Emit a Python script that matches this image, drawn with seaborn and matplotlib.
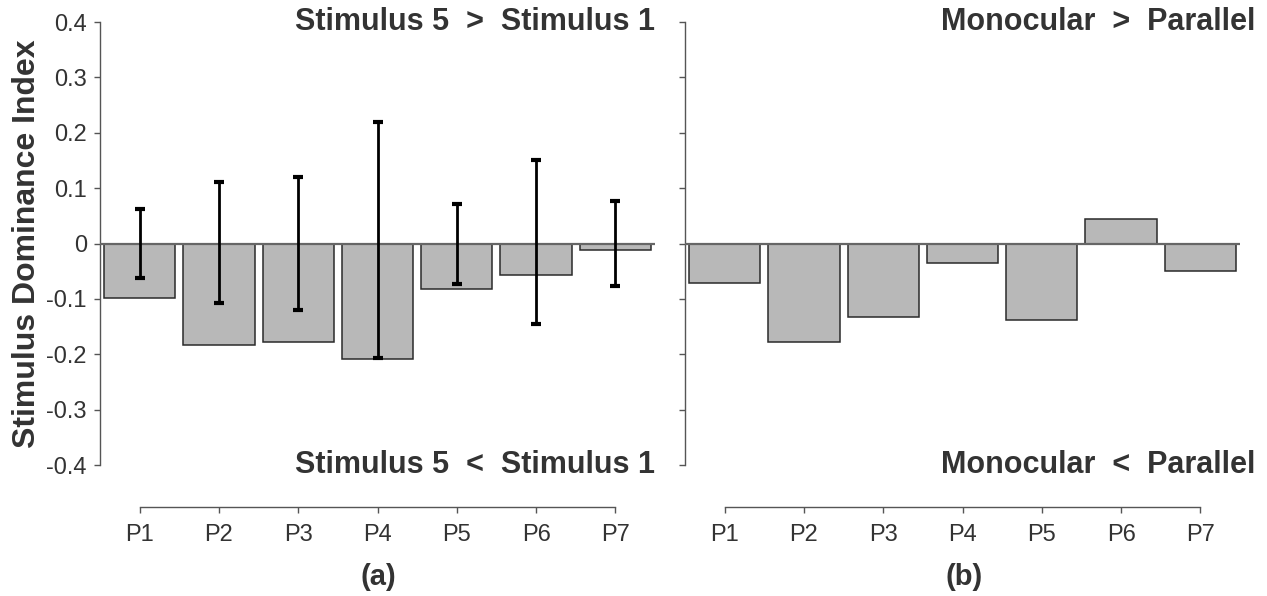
import numpy as np
import pandas as pd
import matplotlib
matplotlib.use("Agg")
import matplotlib.pyplot as plt
import seaborn as sns

# data
participants = ["P1", "P2", "P3", "P4", "P5", "P6", "P7"]
stim_index = [-0.099, -0.184, -0.178, -0.208, -0.083, -0.057, -0.012]
stim_err_low = [-0.062, -0.108, -0.120, -0.207, -0.073, -0.146, -0.077]
stim_err_high = [0.062, 0.111, 0.120, 0.220, 0.071, 0.150, 0.077]
mono_index = [-0.072, -0.177, -0.132, -0.036, -0.138, 0.044, -0.050]

sns.set_theme(style="white")
plt.rcParams["font.family"] = ["Liberation Sans", "DejaVu Sans"]

fig = plt.figure(figsize=(12.67, 5.96), dpi=100)
ax1 = fig.add_axes([100 / 1267, 1 - 465 / 596, 555 / 1267, 443 / 596])
ax2 = fig.add_axes([685 / 1267, 1 - 465 / 596, 555 / 1267, 443 / 596])

dark = "#333333"
bar_col = "#b8b8b8"

df1 = pd.DataFrame({"p": participants, "v": stim_index})
df2 = pd.DataFrame({"p": participants, "v": mono_index})

for ax, df in [(ax1, df1), (ax2, df2)]:
    sns.barplot(data=df, x="p", y="v", color=bar_col, saturation=1,
                edgecolor="#2a2a2a", linewidth=1.1, width=0.9, ax=ax, zorder=2)
    ax.axhline(0, color="#666666", lw=1.6, zorder=3)
    ax.set_xlim(-0.5, 6.5)
    ax.set_ylim(-0.4, 0.4)
    ax.set_yticks(np.arange(-0.4, 0.41, 0.1))
    ax.set_xlabel("")
    ax.set_ylabel("")
    for s in ["top", "right"]:
        ax.spines[s].set_visible(False)
    for s in ["left", "bottom"]:
        ax.spines[s].set_color("#555555")
        ax.spines[s].set_linewidth(1)
    ax.spines["bottom"].set_position(("outward", 30))
    ax.spines["bottom"].set_bounds(0, 6)
    ax.tick_params(axis="both", which="major", direction="out", length=4.5,
                   width=1, color="#555555", labelsize=17, labelcolor=dark,
                   left=True, bottom=True, pad=5)
    ax.tick_params(axis="x", pad=8)

ax1.set_yticklabels(["-0.4", "-0.3", "-0.2", "-0.1", "0", "0.1", "0.2", "0.3", "0.4"])
ax2.set_yticklabels([])

# error bars around zero
x = np.arange(len(participants))
yerr = [[-v for v in stim_err_low], stim_err_high]
ax1.errorbar(x, [0] * len(x), yerr=yerr, fmt="none", ecolor="black",
             elinewidth=2, capsize=3.8, capthick=3, zorder=4)

ax1.set_ylabel("Stimulus Dominance Index", fontsize=23, fontweight="bold",
               color=dark, labelpad=3)

txt = dict(fontsize=22, fontweight="bold", color=dark, ha="right", va="center")
ax1.text(6.5, 0.4, "Stimulus 5  >  Stimulus 1", **txt)
ax1.text(6.5, -0.4, "Stimulus 5  <  Stimulus 1", **txt)
ax2.text(6.69, 0.4, "Monocular  >  Parallel", **txt)
ax2.text(6.69, -0.4, "Monocular  <  Parallel", **txt)

fig.text(378 / 1267, 1 - 577 / 596, "(a)", fontsize=21, fontweight="bold",
         color=dark, ha="center", va="center")
fig.text(964 / 1267, 1 - 577 / 596, "(b)", fontsize=21, fontweight="bold",
         color=dark, ha="center", va="center")

fig.savefig("out.png", dpi=100, facecolor="white")
